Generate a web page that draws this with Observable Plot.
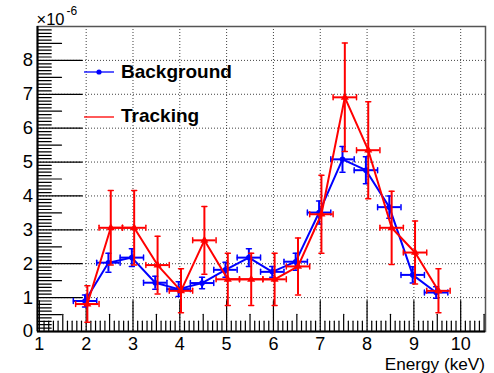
<!DOCTYPE html>
<html><head><meta charset="utf-8">
<script src="https://cdn.jsdelivr.net/npm/d3@7"></script>
<script src="https://cdn.jsdelivr.net/npm/@observablehq/plot@0.6"></script>
<style>
body{margin:0;background:#fff;}
#chart{position:relative;width:494px;height:373px;font-family:"Liberation Sans",Arial,sans-serif;}
#chart svg{display:block}
#overlay{position:absolute;left:0;top:0;pointer-events:none}
</style></head><body><div id="chart"></div>
<script>
// ---- data ----
const seriesNames = ["Background", "Tracking"];
const seriesColors = ["#0000ff", "#ff0000"];
const bgEnergy  = [1.975, 2.475, 2.975, 3.475, 3.975, 4.475, 4.975, 5.475, 5.975, 6.475, 6.975, 7.475, 7.975, 8.475, 8.975, 9.475];
const bgRate    = [0.90, 2.03, 2.18, 1.44, 1.25, 1.43, 1.82, 2.18, 1.76, 2.06, 3.51, 5.08, 4.76, 3.67, 1.67, 1.15];
const bgRateErr = [0.18, 0.28, 0.26, 0.19, 0.22, 0.17, 0.22, 0.26, 0.16, 0.25, 0.34, 0.38, 0.40, 0.33, 0.24, 0.17];
const trEnergy  = [2.025, 2.525, 3.025, 3.525, 4.025, 4.525, 5.025, 5.525, 6.025, 6.525, 7.025, 7.525, 8.025, 8.525, 9.025, 9.525];
const trRate    = [0.81, 3.06, 3.06, 1.96, 1.20, 2.69, 1.54, 1.54, 1.54, 1.92, 3.46, 6.91, 5.35, 3.06, 2.33, 1.20];
const trRateErr = [0.54, 1.10, 1.10, 0.85, 0.65, 1.00, 0.77, 0.77, 0.77, 0.84, 1.15, 1.60, 1.43, 1.08, 0.93, 0.65];
const energyHalfWidth = 0.25;
const xTickLabels = [1, 2, 3, 4, 5, 6, 7, 8, 9, 10];
const yTickLabels = [0, 1, 2, 3, 4, 5, 6, 7, 8];
const xGridValues = [2, 3, 4, 5, 6, 7, 8, 9, 10];
const yGridValues = [1, 2, 3, 4, 5, 6, 7, 8];
const xDomain = [0.96, 10.53];
const yDomain = [0, 9];
const xTitle = "Energy (keV)";
const yExponentBase = "\u00d710";
const yExponent = "-6";

// ---- build tables ----
const bg = bgEnergy.map((x, i) => ({x, y: bgRate[i], e: bgRateErr[i]}));
const tr = trEnergy.map((x, i) => ({x, y: trRate[i], e: trRateErr[i]}));
const xMinor = d3.range(10, 106).map(v => v / 10);
const yMinor = d3.range(0, 90).map(v => v / 10);
const isInt = v => Math.abs(v - Math.round(v)) < 1e-6;
const isHalf = v => Math.abs(v * 2 - Math.round(v * 2)) < 1e-6;

const segment = {draw(ctx, l) { ctx.moveTo(0, 0); ctx.lineTo(0, -l); }};

function seriesMarks(data, color, symbol, r) {
  return [
    Plot.line(data, {x: "x", y: "y", stroke: color, strokeWidth: 2}),
    Plot.ruleY(data, {y: "y", x1: d => d.x - energyHalfWidth, x2: d => d.x + energyHalfWidth, stroke: color, strokeWidth: 2}),
    Plot.ruleX(data, {x: "x", y1: d => d.y - d.e, y2: d => d.y + d.e, stroke: color, strokeWidth: 2}),
    Plot.vector(data, {x: d => d.x - energyHalfWidth, y: "y", length: 5, anchor: "middle", shape: segment, stroke: color, strokeWidth: 1.5}),
    Plot.vector(data, {x: d => d.x + energyHalfWidth, y: "y", length: 5, anchor: "middle", shape: segment, stroke: color, strokeWidth: 1.5}),
    Plot.vector(data, {x: "x", y: d => d.y - d.e, length: 5, rotate: 90, anchor: "middle", shape: segment, stroke: color, strokeWidth: 1.5}),
    Plot.vector(data, {x: "x", y: d => d.y + d.e, length: 5, rotate: 90, anchor: "middle", shape: segment, stroke: color, strokeWidth: 1.5}),
    Plot.dot(data, {x: "x", y: "y", r, symbol, fill: color, stroke: "none"})
  ];
}

const plot = Plot.plot({
  width: 494, height: 373,
  marginLeft: 37, marginRight: 9, marginTop: 26, marginBottom: 42,
  x: {domain: xDomain},
  y: {domain: yDomain},
  style: {fontFamily: '"Liberation Sans", Arial, sans-serif', color: "#000", background: "#fff"},
  marks: [
    Plot.gridX(xGridValues, {stroke: "#000", strokeOpacity: 0.75, strokeDasharray: "1,2", strokeWidth: 1}),
    Plot.gridY(yGridValues, {stroke: "#000", strokeOpacity: 0.75, strokeDasharray: "1,2", strokeWidth: 1}),
    Plot.frame({stroke: "#555", strokeWidth: 1.5}),
    // axis tick marks (inward, ROOT style)
    Plot.vector(xMinor, {x: d => d, frameAnchor: "bottom", length: d => isInt(d) ? 9 : isHalf(d) ? 5 : 3, anchor: "start", shape: segment, stroke: "#000", strokeWidth: 1.2}),
    Plot.vector(yMinor, {y: d => d, frameAnchor: "left", length: d => isInt(d) ? 13 : isHalf(d) ? 7 : 4, rotate: 90, anchor: "start", shape: segment, stroke: "#000", strokeWidth: 1.2}),
    Plot.ruleX([xDomain[0]], {stroke: "#000", strokeWidth: 2}),
    Plot.ruleY([yDomain[0]], {stroke: "#000", strokeWidth: 2}),
    Plot.axisX(xTickLabels, {tickSize: 0, tickPadding: 5.5, fontSize: 18, label: null, fill: "#000"}),
    Plot.axisY(yTickLabels, {tickSize: 0, tickPadding: 4.5, fontSize: 18.5, label: null, fill: "#000"}),
    ...seriesMarks(bg, seriesColors[0], "circle", 2.8),
    ...seriesMarks(tr, seriesColors[1], "triangle", 3)
  ]
});
const chart = document.getElementById("chart");
chart.appendChild(plot);

// ---- overlay: legend, exponent, axis title ----
const ov = d3.select(chart).append("svg").attr("id", "overlay")
  .attr("width", 494).attr("height", 373)
  .style("font-family", '"Liberation Sans", Arial, sans-serif');
const legendRows = [{y: 72, baseline: 77.5}, {y: 117, baseline: 122}];
seriesNames.forEach((name, i) => {
  const row = legendRows[i];
  ov.append("line").attr("x1", 84).attr("x2", 114).attr("y1", row.y).attr("y2", row.y)
    .attr("stroke", seriesColors[i]).attr("stroke-width", 1.3);
  if (i === 0) ov.append("circle").attr("cx", 99).attr("cy", row.y).attr("r", 2.6).attr("fill", seriesColors[i]);
  ov.append("text").attr("x", 121).attr("y", row.baseline).attr("font-size", 19).attr("font-weight", "bold")
    .attr("fill", "#000").text(name);
});
ov.append("text").attr("x", 36.5).attr("y", 24.5).attr("font-size", 16.5).attr("fill", "#000").text(yExponentBase);
ov.append("text").attr("x", 66.5).attr("y", 15).attr("font-size", 12).attr("fill", "#000").text(yExponent);
ov.append("text").attr("x", 485).attr("y", 369.5).attr("font-size", 17.2).attr("text-anchor", "end")
  .attr("fill", "#000").text(xTitle);
</script>
</body></html>
